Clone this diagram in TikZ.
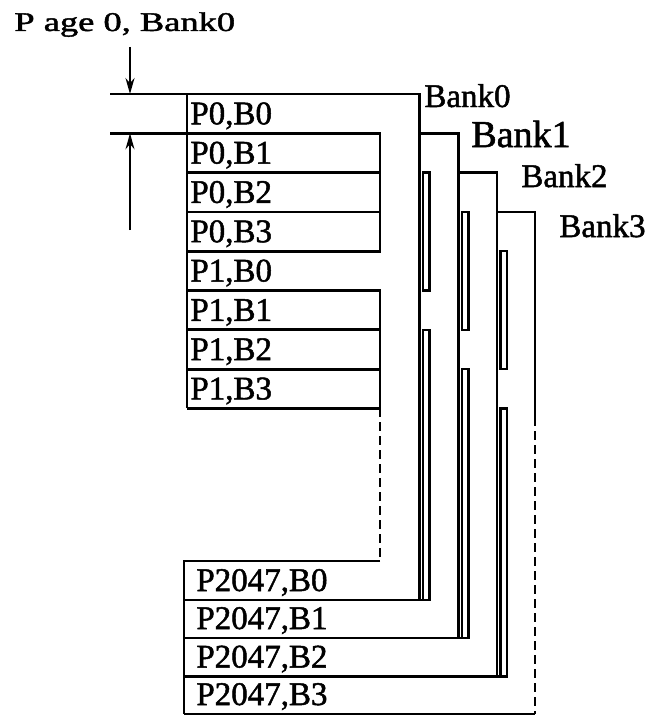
\documentclass[tikz,border=0pt]{standalone}
\usepackage{fontspec}
\setmainfont{Liberation Serif}
\newfontfamily\scanfont{Liberation Serif}[FakeBold=1.5]
\usepackage{graphicx}
\usetikzlibrary{arrows.meta}

\begin{document}
\begin{tikzpicture}[
    x=1pt, y=-1pt,
    line width=2.8pt,
    >={Stealth[length=16pt, width=9pt]},
    % --- text styles -------------------------------------------------
    pagelabel/.style={anchor=base west, inner sep=0pt,
        font=\scanfont\fontsize{33}{33}\selectfont},
    banklabel/.style={anchor=base west, inner sep=0pt,
        font=\scanfont\fontsize{33}{33}\selectfont},
    heading/.style={anchor=base west, inner sep=0pt,
        font=\scanfont\fontsize{27}{27}\selectfont},
    % --- line styles -------------------------------------------------
    dimline/.style={->, line width=1.8pt},
    gapline/.style={dash pattern=on 9pt off 5pt},
    island/.style={draw, line width=2.4pt}
]

\useasboundingbox (0,0) rectangle (648,717);

% --- row and column positions --------------------------------------
\def\xl{187}      % left edge, page 0/1 rows
\def\xm{184}      % left edge, page 2047 rows
\def\xr{380}      % right edge of the closed blocks
\def\bA{419.5}    % bank0 line
\def\bB{458.5}    % bank1 line
\def\bC{497}      % bank2 line
\def\bD{535}      % bank3 line

% --- heading and dimension arrows ----------------------------------
\node[heading] (head) at (13,31) {\scalebox{1.35}[1]{P age 0, Bank0}};

\coordinate (dimtopA) at (130,47);
\coordinate (dimtopB) at (130,94);
\coordinate (dimbotA) at (130,230);
\coordinate (dimbotB) at (130,133.3);
\draw[dimline] (dimtopA) -- (dimtopB);
\draw[dimline] (dimbotA) -- (dimbotB);

% --- page rows, pages 0 and 1 --------------------------------------
\draw (\xl,94) -- (\xl,408.4);
\draw (110,133.3) -- (\xr,133.3) -- (\xr,251.2) -- (\xl,251.2);
\draw (\xl,172.6) -- (\xr,172.6);
\draw (\xl,211.9) -- (\xr,211.9);
\draw (\xl,290.5) -- (\xr,290.5) -- (\xr,408.4) -- (\xl,408.4);
\draw (\xl,329.8) -- (\xr,329.8);
\draw (\xl,369.1) -- (\xr,369.1);
\draw[gapline] (\xr,408.4) -- (\xr,561);

\foreach \i/\p/\b in {0/0/0,1/0/1,2/0/2,3/0/3,4/1/0,5/1/1,6/1/2,7/1/3}
    \node[pagelabel] (row-\i) at (189,{94+39.3*(\i+1)-9}) {P\p,B\b};

% --- page rows, page 2047 ------------------------------------------
\draw (\xr,561) -- (\xm,561) -- (\xm,714);
\draw (\xm,600) -- (\bA+10,600);
\draw (\xm,638) -- (\bB+10,638);
\draw (\xm,676.5) -- (\bC+10,676.5);
\draw (\xm,714) -- (\bD,714);

\foreach \b/\y in {0/591,1/629,2/667.5,3/705}
    \node[pagelabel] (last-\b) at (195,\y) {P2047,B\b};

% --- bank lines ----------------------------------------------------
\draw (110,94) -- (\bA,94) -- (\bA,600);
\draw (\bA,133.3) -- (\bB,133.3) -- (\bB,638);
\draw (\bB,172.6) -- (\bC,172.6) -- (\bC,676.5);
\draw (\bC,211.9) -- (\bD,211.9) -- (\bD,417);
\draw[gapline] (\bD,417) -- (\bD,714);

% --- islands between the openings ----------------------------------
\draw[island] (\bA+3.5,172.6) rectangle (\bA+10,290.5);
\draw[island] (\bA+3.5,329.8) rectangle (\bA+10,600);
\draw[island] (\bB+3.5,211.9) rectangle (\bB+10,329.8);
\draw[island] (\bB+3.5,369.1) rectangle (\bB+10,638);
\draw[island] (\bC+3.5,251.2) rectangle (\bC+10,369.1);
\draw[island] (\bC+3.5,408.4) rectangle (\bC+10,676.5);

% --- bank labels ---------------------------------------------------
\node[banklabel] (bank0) at (423,107) {Bank0};
\node[banklabel, font=\scanfont\fontsize{38}{38}\selectfont] (bank1) at (470,147) {Bank1};
\node[banklabel] (bank2) at (520,187) {Bank2};
\node[banklabel] (bank3) at (558,237) {Bank3};

\end{tikzpicture}
\end{document}
